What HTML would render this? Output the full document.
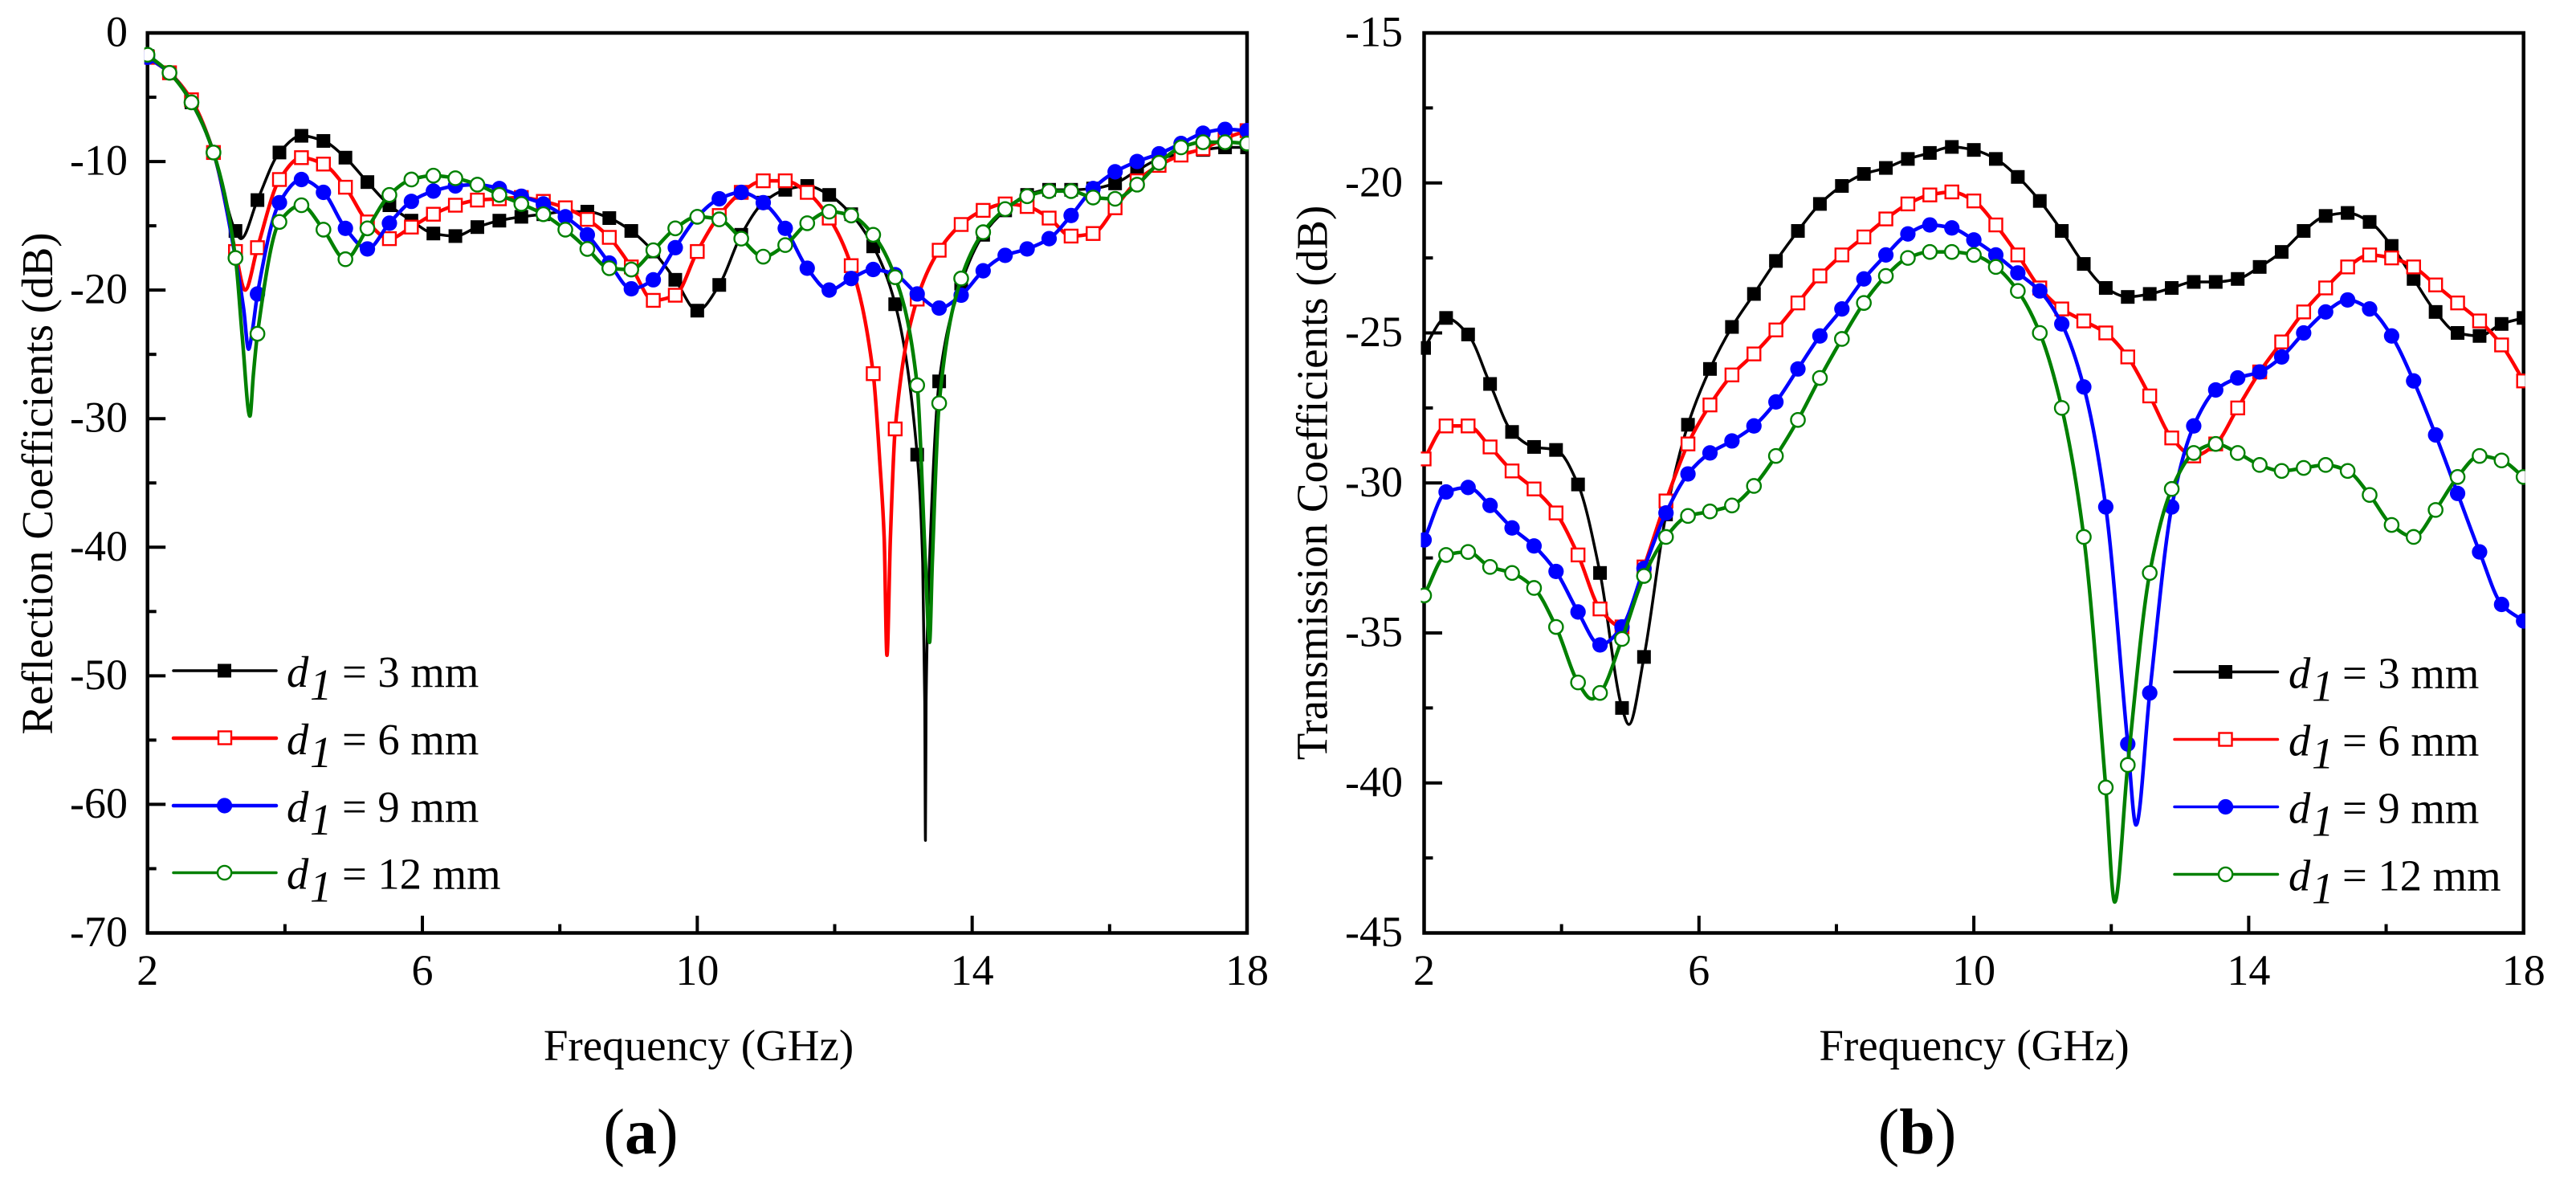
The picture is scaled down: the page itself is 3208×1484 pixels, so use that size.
<!DOCTYPE html>
<html>
<head>
<meta charset="utf-8">
<title>Reflection and transmission coefficients</title>
<style>
html,body{margin:0;padding:0;background:#fff;}
svg{display:block;}
text{font-family:"Liberation Serif",serif;fill:#000;}
.tick-label{font-size:54px;}
.axis-title{font-size:55px;}
.legend-text{font-size:54.6px;}
.panel-label{font-size:80px;}
</style>
</head>
<body>
<svg id="figure" xmlns="http://www.w3.org/2000/svg" width="3208" height="1484" viewBox="0 0 3208 1484">
  <rect width="3208" height="1484" fill="#fff"/>
  <g id="panel-a"></g>
  <g id="panel-b"></g>

  <text class="axis-title" x="870" y="1320" text-anchor="middle">Frequency (GHz)</text>
  <text class="axis-title" x="2458.5" y="1320" text-anchor="middle">Frequency (GHz)</text>
  <text class="axis-title" transform="translate(65,602) rotate(-90)" text-anchor="middle">Reflection Coefficients (dB)</text>
  <text class="axis-title" transform="translate(1652.5,601) rotate(-90)" text-anchor="middle">Transmission Coefficients (dB)</text>
  <text class="panel-label" x="798" y="1436" text-anchor="middle">(<tspan font-weight="bold">a</tspan>)</text>
  <text class="panel-label" x="2387.5" y="1436" text-anchor="middle">(<tspan font-weight="bold">b</tspan>)</text>

  <g>
    <g>
      <line x1="216" x2="344" y1="835" y2="835" stroke="#000" stroke-width="3.5" stroke-linecap="round"/>
      <rect x="271" y="826.5" width="17" height="17" fill="#000"/>
      <text class="legend-text" x="357" y="855"><tspan font-style="italic">d</tspan><tspan font-style="italic" x="386" dy="16">1</tspan><tspan x="426" dy="-16">= 3 mm</tspan></text>
    </g>
    <g>
      <line x1="216" x2="344" y1="919" y2="919" stroke="#f00" stroke-width="4.5" stroke-linecap="round"/>
      <rect x="272" y="910.5" width="16" height="16" fill="#fff" stroke="#f00" stroke-width="2.4"/>
      <text class="legend-text" x="357" y="939"><tspan font-style="italic">d</tspan><tspan font-style="italic" x="386" dy="16">1</tspan><tspan x="426" dy="-16">= 6 mm</tspan></text>
    </g>
    <g>
      <line x1="216" x2="344" y1="1003" y2="1003" stroke="#00f" stroke-width="4.5" stroke-linecap="round"/>
      <circle cx="279.6" cy="1003" r="9.6" fill="#00f"/>
      <text class="legend-text" x="357" y="1023"><tspan font-style="italic">d</tspan><tspan font-style="italic" x="386" dy="16">1</tspan><tspan x="426" dy="-16">= 9 mm</tspan></text>
    </g>
    <g>
      <line x1="216" x2="344" y1="1086.5" y2="1086.5" stroke="#008000" stroke-width="3.5" stroke-linecap="round"/>
      <circle cx="279.6" cy="1086.5" r="8.6" fill="#fff" stroke="#008000" stroke-width="2.4"/>
      <text class="legend-text" x="357" y="1106.5"><tspan font-style="italic">d</tspan><tspan font-style="italic" x="386" dy="16">1</tspan><tspan x="426" dy="-16">= 12 mm</tspan></text>
    </g>
  </g>

  <g>
    <g>
      <line x1="2708" x2="2836.5" y1="836.5" y2="836.5" stroke="#000" stroke-width="3.5" stroke-linecap="round"/>
      <rect x="2763" y="828" width="17" height="17" fill="#000"/>
      <text class="legend-text" x="2850" y="856.5"><tspan font-style="italic">d</tspan><tspan font-style="italic" x="2879" dy="16">1</tspan><tspan x="2917" dy="-16">= 3 mm</tspan></text>
    </g>
    <g>
      <line x1="2708" x2="2836.5" y1="920.5" y2="920.5" stroke="#f00" stroke-width="3.5" stroke-linecap="round"/>
      <rect x="2763.5" y="912.5" width="16" height="16" fill="#fff" stroke="#f00" stroke-width="2.4"/>
      <text class="legend-text" x="2850" y="940.5"><tspan font-style="italic">d</tspan><tspan font-style="italic" x="2879" dy="16">1</tspan><tspan x="2917" dy="-16">= 6 mm</tspan></text>
    </g>
    <g>
      <line x1="2708" x2="2836.5" y1="1004.5" y2="1004.5" stroke="#00f" stroke-width="3.5" stroke-linecap="round"/>
      <circle cx="2771.6" cy="1004.5" r="9.6" fill="#00f"/>
      <text class="legend-text" x="2850" y="1024.5"><tspan font-style="italic">d</tspan><tspan font-style="italic" x="2879" dy="16">1</tspan><tspan x="2917" dy="-16">= 9 mm</tspan></text>
    </g>
    <g>
      <line x1="2708" x2="2836.5" y1="1088.5" y2="1088.5" stroke="#008000" stroke-width="3.5" stroke-linecap="round"/>
      <circle cx="2771.6" cy="1088.5" r="8.6" fill="#fff" stroke="#008000" stroke-width="2.4"/>
      <text class="legend-text" x="2850" y="1108.5"><tspan font-style="italic">d</tspan><tspan font-style="italic" x="2879" dy="16">1</tspan><tspan x="2917" dy="-16">= 12 mm</tspan></text>
    </g>
  </g>
</svg>

<script>
// Frequencies at which markers are sampled (GHz)
const markerFreqs = [2,2.32,2.64,2.96,3.28,3.6,3.92,4.24,4.56,4.88,5.2,5.52,5.84,6.16,6.48,6.8,7.12,7.44,7.76,8.08,8.4,8.72,9.04,9.36,9.68,10,10.32,10.64,10.96,11.28,11.6,11.92,12.24,12.56,12.88,13.2,13.52,13.84,14.16,14.48,14.8,15.12,15.44,15.76,16.08,16.4,16.72,17.04,17.36,17.68,18];

// Axis ticks
const xMajorTicks = [2,6,10,14,18];
const xMinorTicks = [4,8,12,16];
const reflectionMajorTicks = [0,-10,-20,-30,-40,-50,-60,-70];
const reflectionMinorTicks = [-5,-15,-25,-35,-45,-55,-65];
const transmissionMajorTicks = [-15,-20,-25,-30,-35,-40,-45];
const transmissionMinorTicks = [-17.5,-22.5,-27.5,-32.5,-37.5,-42.5];

// Panel (a): reflection coefficients in dB at markerFreqs
const refl3 = [-1.8,-3.1,-5.4,-9.3,-15.4,-13.0,-9.3,-8.0,-8.4,-9.7,-11.6,-13.4,-14.6,-15.6,-15.8,-15.1,-14.6,-14.3,-14.1,-13.9,-13.9,-14.4,-15.4,-17.0,-19.2,-21.6,-19.6,-15.7,-13.2,-12.2,-11.9,-12.6,-14.1,-16.6,-21.1,-32.8,-27.1,-19.5,-15.7,-13.8,-12.6,-12.2,-12.2,-12.1,-11.7,-10.7,-9.8,-9.4,-9.1,-8.9,-8.9];
const refl6 = [-1.9,-3.1,-5.2,-9.3,-17.0,-16.7,-11.4,-9.7,-10.2,-12.0,-14.7,-16.0,-15.1,-14.1,-13.4,-13.0,-12.9,-12.8,-13.1,-13.6,-14.5,-15.9,-18.2,-20.8,-20.4,-17.0,-14.2,-12.4,-11.5,-11.5,-12.4,-14.4,-18.1,-26.5,-30.8,-20.7,-16.9,-14.9,-13.8,-13.3,-13.5,-14.4,-15.8,-15.6,-13.6,-11.5,-10.3,-9.5,-9.0,-8.2,-7.6];
const refl9 = [-1.9,-3.1,-5.4,-9.3,-17.5,-20.3,-13.2,-11.4,-12.4,-15.2,-16.8,-14.8,-13.1,-12.3,-11.9,-11.8,-12.1,-12.7,-13.3,-14.3,-15.7,-17.9,-19.9,-19.2,-16.7,-14.3,-12.9,-12.4,-13.2,-15.2,-18.3,-20.0,-19.1,-18.4,-18.8,-20.3,-21.4,-20.4,-18.5,-17.3,-16.8,-16.0,-14.2,-12.1,-10.8,-10.0,-9.4,-8.6,-7.8,-7.5,-7.6];
const refl12 = [-1.7,-3.1,-5.4,-9.3,-17.5,-23.4,-14.7,-13.4,-15.3,-17.6,-15.2,-12.6,-11.4,-11.1,-11.3,-11.8,-12.6,-13.3,-14.1,-15.3,-16.8,-18.3,-18.4,-16.9,-15.2,-14.3,-14.5,-16.0,-17.4,-16.5,-14.8,-13.9,-14.2,-15.7,-19.0,-27.4,-28.8,-19.1,-15.5,-13.7,-12.7,-12.3,-12.3,-12.8,-12.9,-11.8,-10.1,-8.9,-8.5,-8.5,-8.6];

// Panel (a): extra curve points through the narrow resonance dips
const refl3DipF = [3.36,13.28,13.31,13.32,13.33,13.38];
const refl3DipV = [-16.0,-41.2,-52,-62.8,-52,-41];
const refl6DipF = [3.42,12.66,12.72,12.76,12.81];
const refl6DipV = [-20.0,-33.7,-39.3,-48.4,-39.3];
const refl9DipF = [3.4,3.47,3.53];
const refl9DipV = [-21.5,-24.6,-23.0];
const refl12DipF = [3.38,3.49,3.54,13.32,13.38,13.42];
const refl12DipV = [-23.7,-29.8,-26.6,-41.2,-47.4,-41.2];

// Panel (b): transmission coefficients in dB at markerFreqs
const trans3 = [-25.5,-24.5,-25.05,-26.7,-28.3,-28.8,-28.9,-30.05,-33.0,-37.5,-35.8,-31.05,-28.06,-26.2,-24.8,-23.7,-22.6,-21.6,-20.7,-20.1,-19.7,-19.5,-19.2,-19.0,-18.8,-18.9,-19.2,-19.8,-20.6,-21.6,-22.7,-23.5,-23.8,-23.7,-23.5,-23.3,-23.3,-23.2,-22.8,-22.3,-21.6,-21.1,-21.0,-21.3,-22.1,-23.2,-24.3,-25.0,-25.1,-24.7,-24.5];
const trans6 = [-29.2,-28.1,-28.1,-28.8,-29.6,-30.2,-31.0,-32.4,-34.2,-34.8,-32.8,-30.6,-28.7,-27.4,-26.4,-25.7,-24.9,-24.0,-23.1,-22.4,-21.8,-21.2,-20.7,-20.4,-20.3,-20.6,-21.4,-22.4,-23.5,-24.2,-24.6,-25.0,-25.8,-27.1,-28.5,-29.1,-28.7,-27.5,-26.3,-25.3,-24.3,-23.5,-22.8,-22.4,-22.5,-22.8,-23.4,-24.0,-24.6,-25.4,-26.6];
const trans9 = [-31.9,-30.3,-30.15,-30.75,-31.5,-32.1,-32.95,-34.3,-35.4,-34.8,-32.85,-31.0,-29.7,-29.0,-28.6,-28.1,-27.3,-26.2,-25.1,-24.2,-23.2,-22.4,-21.7,-21.4,-21.5,-21.9,-22.4,-23.0,-23.6,-24.7,-26.8,-30.8,-38.7,-37.0,-30.8,-28.1,-26.9,-26.5,-26.3,-25.8,-25.0,-24.3,-23.9,-24.2,-25.1,-26.6,-28.4,-30.35,-32.3,-34.05,-34.6];
const trans12 = [-33.75,-32.4,-32.3,-32.8,-33.0,-33.5,-34.8,-36.65,-37.0,-35.2,-33.1,-31.8,-31.1,-30.95,-30.75,-30.1,-29.1,-27.9,-26.5,-25.2,-24.0,-23.1,-22.5,-22.3,-22.3,-22.4,-22.8,-23.6,-25.0,-27.5,-31.8,-40.15,-39.4,-33.0,-30.2,-29.0,-28.7,-29.0,-29.4,-29.6,-29.5,-29.4,-29.6,-30.4,-31.4,-31.8,-30.9,-29.8,-29.1,-29.25,-29.8];

// Panel (b): extra curve points through the narrow resonance dips
const trans3DipF = [4.98];
const trans3DipV = [-38.05];
const trans6DipF = [];
const trans6DipV = [];
const trans9DipF = [12.36];
const trans9DipV = [-41.4];
const trans12DipF = [4.44,12.05];
const trans12DipV = [-37.2,-43.97];

const SVG_NS = 'http://www.w3.org/2000/svg';

function makeXScale(p){ return f => p.x0 + (f - 2) / 16 * (p.x1 - p.x0); }
function makeYScale(p){ return v => p.y0 + (p.yMax - v) / (p.yMax - p.yMin) * (p.y1 - p.y0); }

function monotonePath(pts){
  const n = pts.length, dx = [], m = [], t = new Array(n);
  for (let i = 0; i < n - 1; i++) {
    dx[i] = pts[i + 1][0] - pts[i][0];
    m[i] = (pts[i + 1][1] - pts[i][1]) / dx[i];
  }
  t[0] = m[0];
  t[n - 1] = m[n - 2];
  for (let i = 1; i < n - 1; i++) {
    if (m[i - 1] * m[i] <= 0) { t[i] = 0; }
    else {
      const w1 = 2 * dx[i] + dx[i - 1], w2 = dx[i] + 2 * dx[i - 1];
      t[i] = (w1 + w2) / (w1 / m[i - 1] + w2 / m[i]);
    }
  }
  let d = 'M' + pts[0][0].toFixed(2) + ' ' + pts[0][1].toFixed(2);
  for (let i = 0; i < n - 1; i++) {
    const h = dx[i] / 3;
    d += 'C' + (pts[i][0] + h).toFixed(2) + ' ' + (pts[i][1] + t[i] * h).toFixed(2) + ' ' +
         (pts[i + 1][0] - h).toFixed(2) + ' ' + (pts[i + 1][1] - t[i + 1] * h).toFixed(2) + ' ' +
         pts[i + 1][0].toFixed(2) + ' ' + pts[i + 1][1].toFixed(2);
  }
  return d;
}

function drawTick(parent, x1, y1, x2, y2){
  const tick = document.createElementNS(SVG_NS, 'line');
  
  
  tick.setAttribute('x1', x1);
  tick.setAttribute('y1', y1);
  tick.setAttribute('x2', x2);
  tick.setAttribute('y2', y2);
  tick.setAttribute('stroke', '#000');
  tick.setAttribute('stroke-width', '4');
  parent.appendChild(tick);
}

function drawTickLabel(parent, x, y, anchor, label){
  const t = document.createElementNS(SVG_NS, 'text');
  
  
  t.setAttribute('class', 'tick-label');
  t.setAttribute('x', x);
  t.setAttribute('y', y);
  t.setAttribute('text-anchor', anchor);
  t.textContent = label;
  parent.appendChild(t);
}

function drawMarker(parent, style, cx, cy){
  let mark;
  if (style.shape === 'square') {
    mark = document.createElementNS(SVG_NS, 'rect');
    const size = style.open ? 16 : 17;
    mark.setAttribute('x', cx - size / 2);
    mark.setAttribute('y', cy - size / 2);
    mark.setAttribute('width', size);
    mark.setAttribute('height', size);
  } else {
    mark = document.createElementNS(SVG_NS, 'circle');
    mark.setAttribute('cx', cx);
    mark.setAttribute('cy', cy);
    mark.setAttribute('r', style.open ? 8.6 : 9.6);
  }
  
  
  mark.setAttribute('fill', style.open ? '#fff' : style.color);
  if (style.open) {
    mark.setAttribute('stroke', style.color);
    mark.setAttribute('stroke-width', '2.4');
  }
  parent.appendChild(mark);
}

function drawSeries(parent, xs, ys, series, clipId){
  const g = document.createElementNS(SVG_NS, 'g');
  
  
  g.setAttribute('clip-path', 'url(#' + clipId + ')');
  const merged = markerFreqs.map((f, i) => [f, series.values[i]]);
  series.dipF.forEach((f, i) => merged.push([f, series.dipV[i]]));
  merged.sort((a, b) => a[0] - b[0]);
  const curve = document.createElementNS(SVG_NS, 'path');
  
  
  curve.setAttribute('d', monotonePath(merged.map(p => [xs(p[0]), ys(p[1])])));
  curve.setAttribute('fill', 'none');
  curve.setAttribute('stroke', series.color);
  curve.setAttribute('stroke-width', series.width);
  curve.setAttribute('stroke-linejoin', 'round');
  g.appendChild(curve);
  markerFreqs.forEach((f, i) => drawMarker(g, series, xs(f), ys(series.values[i])));
  parent.appendChild(g);
}

function drawPanel(id, p, majorY, minorY, seriesList){
  const root = document.getElementById(id);
  const xs = makeXScale(p), ys = makeYScale(p);

  const defs = document.createElementNS(SVG_NS, 'defs');
  const clip = document.createElementNS(SVG_NS, 'clipPath');
  const clipId = id + '-clip';
  clip.setAttribute('id', clipId);
  const clipRect = document.createElementNS(SVG_NS, 'rect');
  clipRect.setAttribute('x', p.x0 - 4);
  clipRect.setAttribute('y', p.y0 - 2);
  clipRect.setAttribute('width', p.x1 - p.x0 + 6);
  clipRect.setAttribute('height', p.y1 - p.y0 + 4);
  clip.appendChild(clipRect);
  defs.appendChild(clip);
  root.appendChild(defs);

  const frame = document.createElementNS(SVG_NS, 'rect');
  
  
  frame.setAttribute('x', p.x0);
  frame.setAttribute('y', p.y0);
  frame.setAttribute('width', p.x1 - p.x0);
  frame.setAttribute('height', p.y1 - p.y0);
  frame.setAttribute('fill', 'none');
  frame.setAttribute('stroke', '#000');
  frame.setAttribute('stroke-width', '4.5');
  root.appendChild(frame);

  xMajorTicks.forEach(f => {
    if (f > 2 && f < 18) drawTick(root, xs(f), p.y1, xs(f), p.y1 - 21.5);
    drawTickLabel(root, xs(f), 1226, 'middle', String(f));
  });
  xMinorTicks.forEach(f => drawTick(root, xs(f), p.y1, xs(f), p.y1 - 11));
  majorY.forEach(v => {
    if (v < p.yMax && v > p.yMin) drawTick(root, p.x0, ys(v), p.x0 + 22.5, ys(v));
    drawTickLabel(root, p.labelX, ys(v) + 16.5, 'end', String(v));
  });
  minorY.forEach(v => drawTick(root, p.x0, ys(v), p.x0 + 11, ys(v)));

  seriesList.forEach(s => drawSeries(root, xs, ys, s, clipId));
}

drawPanel('panel-a',
  {x0: 183.7, x1: 1553, y0: 41, y1: 1161.5, yMax: 0, yMin: -70, labelX: 159},
  reflectionMajorTicks, reflectionMinorTicks,
  [
    {values: refl3, dipF: refl3DipF, dipV: refl3DipV, color: '#000', width: 3.5, shape: 'square', open: false},
    {values: refl6, dipF: refl6DipF, dipV: refl6DipV, color: '#f00', width: 4.5, shape: 'square', open: true},
    {values: refl9, dipF: refl9DipF, dipV: refl9DipV, color: '#00f', width: 4.5, shape: 'circle', open: false},
    {values: refl12, dipF: refl12DipF, dipV: refl12DipV, color: '#008000', width: 4.5, shape: 'circle', open: true}
  ]);

drawPanel('panel-b',
  {x0: 1773.5, x1: 3142.7, y0: 41, y1: 1161.5, yMax: -15, yMin: -45, labelX: 1747},
  transmissionMajorTicks, transmissionMinorTicks,
  [
    {values: trans3, dipF: trans3DipF, dipV: trans3DipV, color: '#000', width: 3.5, shape: 'square', open: false},
    {values: trans6, dipF: trans6DipF, dipV: trans6DipV, color: '#f00', width: 4.5, shape: 'square', open: true},
    {values: trans9, dipF: trans9DipF, dipV: trans9DipV, color: '#00f', width: 4.5, shape: 'circle', open: false},
    {values: trans12, dipF: trans12DipF, dipV: trans12DipV, color: '#008000', width: 4.5, shape: 'circle', open: true}
  ]);
</script>
</body>
</html>
